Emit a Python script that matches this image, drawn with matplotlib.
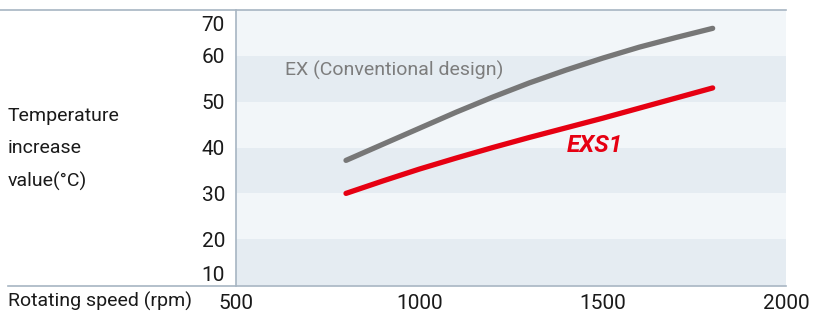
import matplotlib
matplotlib.use('Agg')
import matplotlib.pyplot as plt
import matplotlib.transforms as mtransforms
from matplotlib.lines import Line2D

plt.rcParams['font.family'] = ['Roboto', 'DejaVu Sans']

# data
speed_rpm = [800, 900, 1000, 1100, 1200, 1300, 1400, 1500, 1600, 1700, 1800]
ex_temp = [37.2, 40.7, 44.2, 47.7, 51.0, 54.1, 56.9, 59.5, 61.9, 64.0, 66.0]
exs1_temp = [30.0, 32.7, 35.3, 37.7, 40.0, 42.2, 44.3, 46.4, 48.6, 50.8, 53.0]

y_ticks = [10, 20, 30, 40, 50, 60, 70]
x_ticks = [500, 1000, 1500, 2000]
band_edges = [10, 20, 30, 40, 50, 60, 70]

W, H = 814, 313
LINE_C = '#a7b5c2'
BAND_DARK = '#e5ecf2'
BAND_LIGHT = '#f2f6f9'
TXT = '#1a1a1a'

fig = plt.figure(figsize=(W / 100, H / 100), dpi=100)
ax = fig.add_axes([236 / W, 1 - 286 / H, 550 / W, 276 / H])
ax.set_xlim(500, 2000)
ax.set_ylim(9.8, 69.8)
ax.set_facecolor(BAND_LIGHT)

# alternating horizontal bands
for i in range(len(band_edges) - 1):
    c = BAND_DARK if i % 2 == 0 else BAND_LIGHT
    ax.axhspan(band_edges[i], band_edges[i + 1], color=c, lw=0, zorder=0)

ax.plot(speed_rpm, ex_temp, color='#777777', lw=3.8, solid_capstyle='round', zorder=3)
ax.plot(speed_rpm, exs1_temp, color='#e60012', lw=3.8, solid_capstyle='round', zorder=3)

ax.text(634, 56.9, 'EX (Conventional design)', color='#7d7d7d', fontsize=14,
        va='center', ha='left')
ax.text(1403, 40.4, 'EXS1', color='#e60012', fontsize=17.5, fontweight='bold',
        style='italic', va='center', ha='left')

for s in ['top', 'right', 'bottom']:
    ax.spines[s].set_visible(False)
ax.spines['left'].set_color(LINE_C)
ax.spines['left'].set_linewidth(1.2)

ax.set_yticks(y_ticks)
ax.set_yticklabels([str(v) for v in y_ticks])
ax.set_xticks(x_ticks)
ax.set_xticklabels([str(v) for v in x_ticks])
ax.tick_params(axis='both', length=0, labelsize=15, labelcolor=TXT)
ax.tick_params(axis='y', pad=8)
ax.tick_params(axis='x', pad=6)

# nudge the outer y labels inside the plot height
labels = ax.get_yticklabels()
labels[-1].set_transform(labels[-1].get_transform() +
                         mtransforms.ScaledTranslation(0, -13 / 100, fig.dpi_scale_trans))
labels[0].set_transform(labels[0].get_transform() +
                        mtransforms.ScaledTranslation(0, 12 / 100, fig.dpi_scale_trans))

# frame lines across the figure
fig.add_artist(Line2D([0, 786 / W], [1 - 10 / H, 1 - 10 / H], color=LINE_C, lw=1.2))
fig.add_artist(Line2D([8 / W, 786 / W], [1 - 286 / H, 1 - 286 / H], color=LINE_C, lw=1.2))

fig.text(8 / W, 1 - 301 / H, 'Rotating speed (rpm)', fontsize=14, color=TXT,
         ha='left', va='center')
for txt, yy in [('Temperature', 116), ('increase', 148), ('value(°C)', 181)]:
    fig.text(8 / W, 1 - yy / H, txt, fontsize=14, color=TXT, ha='left', va='center')

fig.savefig('out.png', dpi=100, facecolor='white')
